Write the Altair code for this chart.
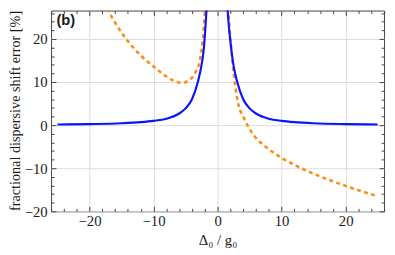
import altair as alt
import pandas as pd

# ---- data ----
blue_left_x = [-25, -20, -15, -12, -10, -8, -6, -5, -4, -3, -2.5, -2.2, -2.0, -1.8, -1.6, -1.4]
blue_left_y = [0.16, 0.25, 0.44, 0.7, 1.0, 1.5, 2.7, 3.9, 6.0, 10.5, 14.0, 17.0, 20.5, 25.0, 30.0, 36.0]
blue_right_x = [1.4, 1.52, 1.7, 2.0, 2.3, 2.5, 3, 4, 5, 6, 8, 10, 12, 15, 20, 25]
blue_right_y = [32.0, 28.0, 24.0, 19.5, 15.8, 13.8, 10.4, 6.0, 3.9, 2.7, 1.5, 1.0, 0.7, 0.44, 0.25, 0.16]

orange_left_x = [-25, -22, -20, -17.7, -15, -13.9, -12, -10, -8, -6.8, -5.6, -4.5, -3.5, -2.7, -2.2, -1.9, -1.7]
orange_left_y = [46, 38, 33.5, 28, 21.5, 19.3, 16.2, 13.6, 11.3, 10.3, 9.8, 10.4, 12.1, 15.5, 21.6, 28.4, 33]
orange_right_x = [1.4, 1.5, 1.7, 2.0, 2.3, 2.8, 3.3, 4.0, 4.6, 5.0, 5.9, 7.5, 10, 12.5, 16, 20, 25]
orange_right_y = [34, 30, 26, 20, 15, 8.7, 4.5, 2.0, 0.2, -0.9, -2.8, -5.0, -7.6, -9.6, -11.9, -14.1, -16.5]

x_major = [-20, -10, 0, 10, 20]
x_minor = [-26, -24, -22, -18, -16, -14, -12, -8, -6, -4, -2, 2, 4, 6, 8, 12, 14, 16, 18, 22, 24, 26]
y_major = [-20, -10, 0, 10, 20]
y_minor = [-18, -16, -14, -12, -8, -6, -4, -2, 2, 4, 6, 8, 12, 14, 16, 18, 22, 24, 26]

x_domain = [-26, 26]
y_domain = [-20, 26.6]

rows = []
for s, b, xv_list, yv_list in [("blue", "L", blue_left_x, blue_left_y),
                               ("blue", "R", blue_right_x, blue_right_y),
                               ("orange", "L", orange_left_x, orange_left_y),
                               ("orange", "R", orange_right_x, orange_right_y)]:
    for xv, yv in zip(xv_list, yv_list):
        rows.append({"x": xv, "y": yv, "series": s, "branch": s + b})
df = pd.DataFrame(rows)

FRAME = "#444444"
SERIF = "Liberation Serif"
TXT = "#1a1a1a"


def xs(axis):
    return alt.X("x:Q", scale=alt.Scale(domain=x_domain, nice=False, zero=False), axis=axis)


def ys(axis):
    return alt.Y("y:Q", scale=alt.Scale(domain=y_domain, nice=False, zero=False), axis=axis)


def tick_axis(orient, values, size):
    return alt.Axis(orient=orient, values=values, tickSize=size, offset=-size,
                    labels=False, domain=False, grid=False, title=None,
                    tickColor=FRAME, tickWidth=1)


main_x_axis = alt.Axis(orient="bottom", values=x_major, ticks=False, domain=False,
                       grid=True, gridColor="#dcdcdc", gridWidth=1,
                       labelFont=SERIF, labelFontSize=15, labelColor=TXT, labelPadding=3,
                       title="Δ₀ / g₀", titleFont=SERIF, titleFontSize=15,
                       titleFontWeight="normal", titleColor=TXT,
                       titleBaseline="alphabetic", titleY=34)
main_y_axis = alt.Axis(orient="left", values=y_major, ticks=False, domain=False,
                       grid=True, gridColor="#dcdcdc", gridWidth=1,
                       labelFont=SERIF, labelFontSize=15, labelColor=TXT, labelPadding=4,
                       title="fractional dispersive shift error [%]", titleFont=SERIF,
                       titleFontSize=14.5, titleFontWeight="normal", titleColor=TXT,
                       titleX=-29, titleY=102)

base = alt.Chart(df)

blue = base.transform_filter(alt.datum.series == "blue").mark_line(
    color="#0a14ff", strokeWidth=2.2, clip=True, interpolate="monotone"
).encode(x=xs(main_x_axis), y=ys(main_y_axis), detail="branch:N")

orange = base.transform_filter(alt.datum.series == "orange").mark_line(
    color="#ff8a14", strokeWidth=2.6, strokeDash=[4, 3.5], clip=True, interpolate="monotone"
).encode(x=xs(None), y=ys(None), detail="branch:N")

ghost = base.mark_point(opacity=0)
t1 = ghost.encode(x=xs(tick_axis("bottom", x_major, 5)), y=ys(tick_axis("left", y_major, 5)))
t2 = ghost.encode(x=xs(tick_axis("bottom", x_minor, 3)), y=ys(tick_axis("left", y_minor, 3)))
t3 = ghost.encode(x=xs(tick_axis("top", x_major, 5)), y=ys(tick_axis("right", y_major, 5)))
t4 = ghost.encode(x=xs(tick_axis("top", x_minor, 3)), y=ys(tick_axis("right", y_minor, 3)))

panel_label = alt.Chart(pd.DataFrame({"t": ["(b)"]})).mark_text(
    font="Liberation Sans", fontWeight="bold", fontSize=15, color=TXT,
    align="center", baseline="middle"
).encode(text="t:N", x=alt.value(15), y=alt.value(10))

chart = alt.layer(orange, blue, t1, t2, t3, t4, panel_label).resolve_scale(
    x="independent", y="independent"
).resolve_axis(
    x="independent", y="independent"
).properties(
    width=340, height=205,
    autosize=alt.AutoSizeParams(type="none"),
    padding={"left": 44, "top": 0, "right": 3, "bottom": 42},
).configure_view(stroke=FRAME, strokeWidth=1).configure_axis(labelFont=SERIF, titleFont=SERIF)

chart.save("out.html", embed_options={"renderer": "svg", "actions": False})
